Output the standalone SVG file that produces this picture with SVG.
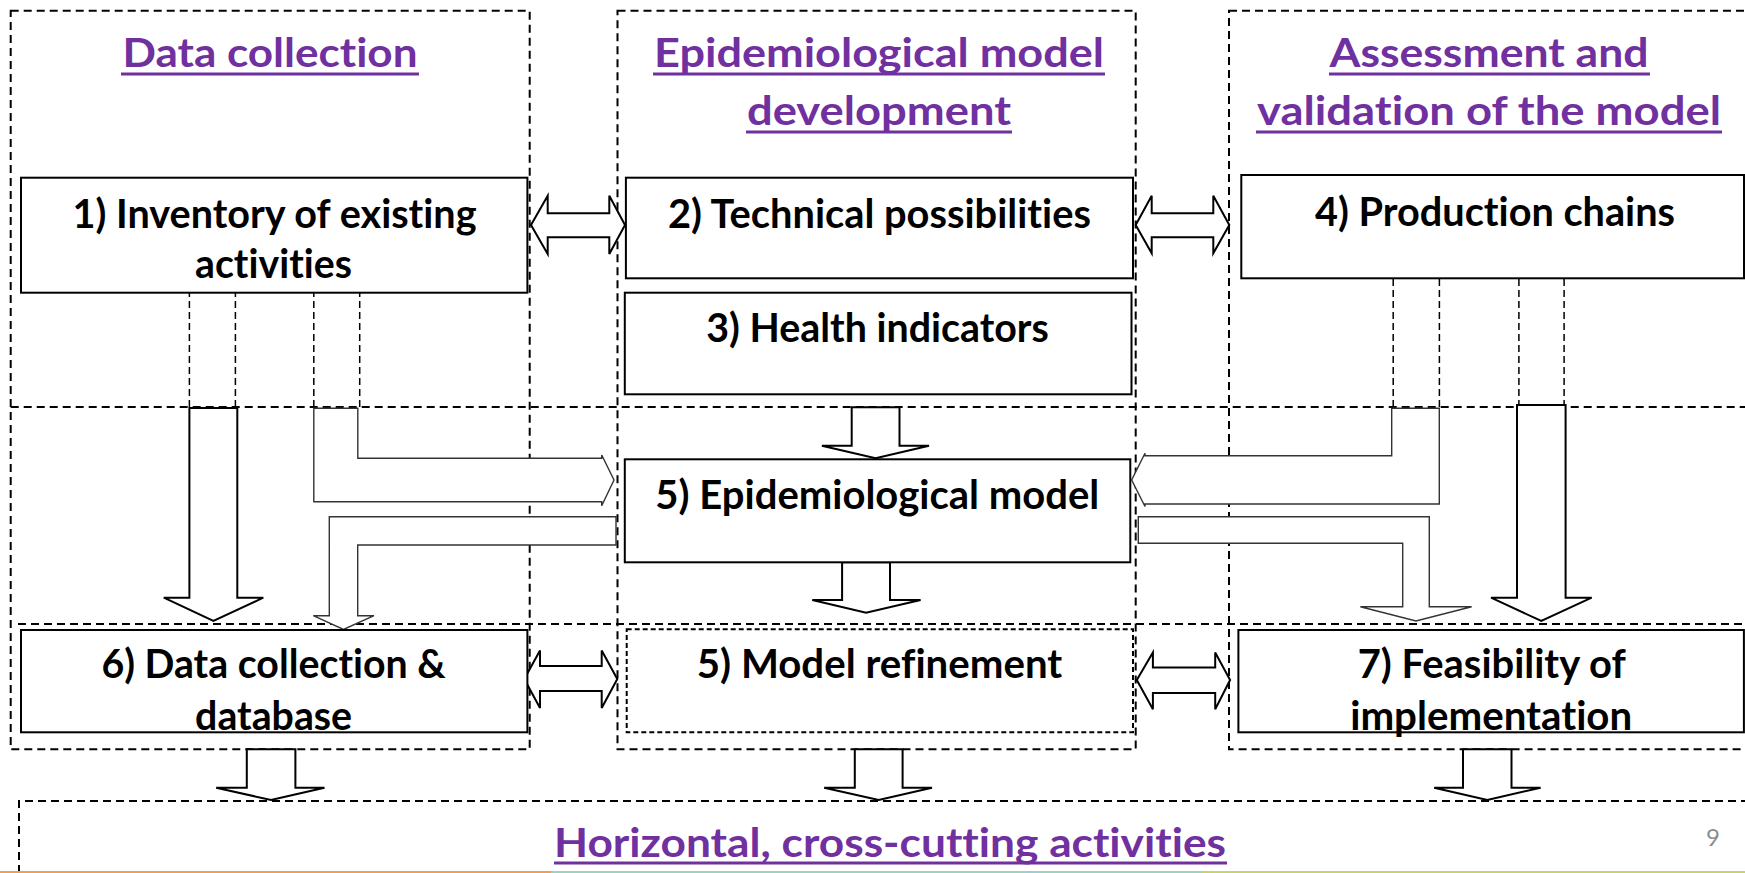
<svg xmlns="http://www.w3.org/2000/svg" width="1745" height="873" viewBox="0 0 1745 873">
<style>
  .col { fill: none; stroke: #000; stroke-width: 2; stroke-dasharray: 8 5; }
  .sep { fill: none; stroke: #000; stroke-width: 2; stroke-dasharray: 8 5; }
  .fine { fill: none; stroke: #000; stroke-width: 1.5; stroke-dasharray: 7 4; }
  .box { fill: #fff; stroke: #000; stroke-width: 2; }
  .dotbox { fill: #fff; stroke: #000; stroke-width: 2; stroke-dasharray: 5 3; }
  .blk { fill: #fff; stroke: #000; stroke-width: 2; stroke-linejoin: miter; }
  .elb { fill: #fff; stroke: #333; stroke-width: 1.4; stroke-linejoin: miter; }
  text { font-variant-ligatures: none; font-feature-settings: "liga" 0, "clig" 0; }
  .title { font-family: Lato, "Liberation Sans", sans-serif; font-weight: 700; font-size: 40px; fill: #7030A0; text-anchor: middle; }
  .ul { fill: #7030A0; }
  .lbl { font-family: Lato, "Liberation Sans", sans-serif; font-weight: 700; font-size: 40px; fill: #000; text-anchor: middle; }
  .pg { font-family: Lato, "Liberation Sans", sans-serif; font-size: 24px; fill: #8c8c8c; text-anchor: middle; }
</style>
<rect x="0" y="0" width="1745" height="873" fill="#fff"/>

<!-- column frames and separators -->
<g id="frames">
  <rect class="col" x="10.7" y="10.7" width="519" height="738.6"/>
  <rect class="col" x="617.5" y="10.7" width="518.2" height="738.6"/>
  <rect class="col" x="1229" y="10.7" width="530" height="738.6"/>
  <line class="sep" x1="10.7" y1="407" x2="1745" y2="407"/>
  <line class="sep" x1="18" y1="624" x2="1745" y2="624"/>
  <path class="col" d="M19,873 L19,801 L1745,801"/>
</g>

<g id="col-titles">
  <text class="title" x="270" y="67" textLength="295" lengthAdjust="spacingAndGlyphs">Data collection</text>
  <rect class="ul" x="121" y="72.5" width="298" height="3"/>
  <text class="title" x="879" y="67" textLength="450" lengthAdjust="spacingAndGlyphs">Epidemiological model</text>
  <rect class="ul" x="653" y="72.5" width="452" height="3"/>
  <text class="title" x="879" y="125" textLength="264" lengthAdjust="spacingAndGlyphs">development</text>
  <rect class="ul" x="746" y="130.5" width="266" height="3"/>
  <text class="title" x="1489" y="67" textLength="319" lengthAdjust="spacingAndGlyphs">Assessment and</text>
  <rect class="ul" x="1329" y="72.5" width="321" height="3"/>
  <text class="title" x="1489" y="125" textLength="464" lengthAdjust="spacingAndGlyphs">validation of the model</text>
  <rect class="ul" x="1256" y="130.5" width="466" height="3"/>
</g>

<!-- connectors -->
<g id="connectors">
  <!-- dashed guide lines under boxes 1 and 4 -->
  <line class="fine" x1="189.4" y1="279" x2="189.4" y2="407"/>
  <line class="fine" x1="235.4" y1="279" x2="235.4" y2="407"/>
  <line class="fine" x1="313.8" y1="279" x2="313.8" y2="407"/>
  <line class="fine" x1="359.7" y1="279" x2="359.7" y2="407"/>
  <line class="fine" x1="1393.2" y1="279" x2="1393.2" y2="407"/>
  <line class="fine" x1="1439.4" y1="279" x2="1439.4" y2="407"/>
  <line class="fine" x1="1518.9" y1="279" x2="1518.9" y2="407"/>
  <line class="fine" x1="1564.1" y1="279" x2="1564.1" y2="407"/>

  <!-- double arrows -->
  <path class="blk" d="M531,225 L547.7,195.7 L547.7,213.3 L609.3,213.3 L609.3,195.7 L625,225 L609.3,254 L609.3,237.3 L547.7,237.3 L547.7,254 Z"/>
  <path class="blk" d="M1135.7,225 L1151.7,195.7 L1151.7,213.3 L1213.3,213.3 L1213.3,195.7 L1229.3,225 L1213.3,253.3 L1213.3,237.3 L1151.7,237.3 L1151.7,253.3 Z"/>
  <path class="blk" d="M524.3,679 L540,650.5 L540,666 L601.7,666 L601.7,650.5 L617.3,679 L601.7,708 L601.7,691 L540,691 L540,708 Z"/>
  <path class="blk" d="M1136.8,680 L1152.9,652.5 L1152.9,667.5 L1215.2,667.5 L1215.2,652.5 L1230.1,680 L1215.2,709.3 L1215.2,693 L1152.9,693 L1152.9,709.3 Z"/>

  <!-- straight down arrows -->
  <path class="blk" d="M189.4,408 L237.3,408 L237.3,597.7 L263.3,597.7 L213.4,621 L163.8,597.7 L189.4,597.7 Z"/>
  <path class="blk" d="M1517,405 L1565.6,405 L1565.6,597.7 L1591.7,597.7 L1541.3,621 L1491,597.7 L1517,597.7 Z"/>
  <path class="blk" d="M851.7,407.3 L899.5,407.3 L899.5,445.7 L929,445.7 L875.6,458.3 L821.9,445.7 L851.7,445.7 Z"/>
  <path class="blk" d="M842.1,562.3 L890,562.3 L890,600 L920.6,600 L866.1,612.7 L812.3,600 L842.1,600 Z"/>
  <path class="blk" d="M246.8,749.3 L295.4,749.3 L295.4,787.7 L324.5,787.7 L271,800 L216.2,787.7 L246.8,787.7 Z"/>
  <path class="blk" d="M854.8,749.3 L902.6,749.3 L902.6,787.7 L932,787.7 L878.7,800 L824.2,787.7 L854.8,787.7 Z"/>
  <path class="blk" d="M1463,749.3 L1511.5,749.3 L1511.5,787.7 L1540.6,787.7 L1487.3,800 L1434.2,787.7 L1463,787.7 Z"/>

  <!-- elbow arrows -->
  <path class="elb" d="M313.8,408.3 L357.8,408.3 L357.8,458.3 L601.7,458.3 L601.7,455 L614,480 L601.7,505.7 L601.7,501.7 L313.8,501.7 Z"/>
  <path class="elb" d="M616,516.7 L329.3,516.7 L329.3,615.7 L313.3,615.7 L343.5,629.5 L374,615.7 L357.7,615.7 L357.7,545 L616,545 Z"/>
  <path class="elb" d="M1391.7,408.3 L1439.3,408.3 L1439.3,504 L1145,504 L1145,506.5 L1131.7,480 L1145,453.3 L1145,455.7 L1391.7,455.7 Z"/>
  <path class="elb" d="M1138.3,516.7 L1429.3,516.7 L1429.3,606.7 L1471.6,606.7 L1416,621 L1360.4,606.7 L1402.7,606.7 L1402.7,543.3 L1138.3,543.3 Z"/>
</g>

<!-- nodes -->
<g id="node1">
  <rect class="box" x="21" y="177.7" width="506.4" height="115"/>
  <text class="lbl" x="274.6" y="228" textLength="404" lengthAdjust="spacingAndGlyphs">1) Inventory of existing</text>
  <text class="lbl" x="273.5" y="277.7" textLength="157" lengthAdjust="spacingAndGlyphs">activities</text>
</g>
<g id="node2">
  <rect class="box" x="625.9" y="177.7" width="507.1" height="100.6"/>
  <text class="lbl" x="879.5" y="227.7" textLength="423" lengthAdjust="spacingAndGlyphs">2) Technical possibilities</text>
</g>
<g id="node3">
  <rect class="box" x="624.8" y="292.7" width="506.7" height="101.6"/>
  <text class="lbl" x="877.5" y="341.7" textLength="342.5" lengthAdjust="spacingAndGlyphs">3) Health indicators</text>
</g>
<g id="node4">
  <rect class="box" x="1241.3" y="175" width="502.7" height="103.3"/>
  <text class="lbl" x="1495" y="225.7" textLength="360" lengthAdjust="spacingAndGlyphs">4) Production chains</text>
</g>
<g id="node5">
  <rect class="box" x="624.8" y="459.3" width="505.5" height="103"/>
  <text class="lbl" x="877.3" y="509.3" textLength="444" lengthAdjust="spacingAndGlyphs">5) Epidemiological model</text>
</g>
<g id="node6">
  <rect class="box" x="21" y="630" width="506.4" height="102.3"/>
  <text class="lbl" x="273.6" y="678.3" textLength="344.4" lengthAdjust="spacingAndGlyphs">6) Data collection &amp;</text>
  <text class="lbl" x="273.6" y="730" textLength="157" lengthAdjust="spacingAndGlyphs">database</text>
</g>
<g id="node5b">
  <rect class="dotbox" x="626.7" y="629.3" width="506.3" height="103"/>
  <text class="lbl" x="879.5" y="678.3" textLength="365.5" lengthAdjust="spacingAndGlyphs">5) Model refinement</text>
</g>
<g id="node7">
  <rect class="box" x="1238.4" y="630" width="505.5" height="102.3"/>
  <text class="lbl" x="1491.7" y="678.3" textLength="268" lengthAdjust="spacingAndGlyphs">7) Feasibility of</text>
  <text class="lbl" x="1491.2" y="730" textLength="282" lengthAdjust="spacingAndGlyphs">implementation</text>
</g>

<g id="horizontal">
  <text class="title" x="890" y="857" font-size="41" textLength="672" lengthAdjust="spacingAndGlyphs">Horizontal, cross-cutting activities</text>
  <rect class="ul" x="554" y="861.5" width="673" height="3"/>
</g>

<g id="footer">
  <text class="pg" x="1713" y="846">9</text>
  <rect x="0" y="871" width="551" height="2" fill="#f0a050"/>
  <rect x="551" y="871" width="651" height="2" fill="#9dd0c8"/>
  <rect x="1202" y="871" width="543" height="2" fill="#c9d36a"/>
</g>
</svg>
